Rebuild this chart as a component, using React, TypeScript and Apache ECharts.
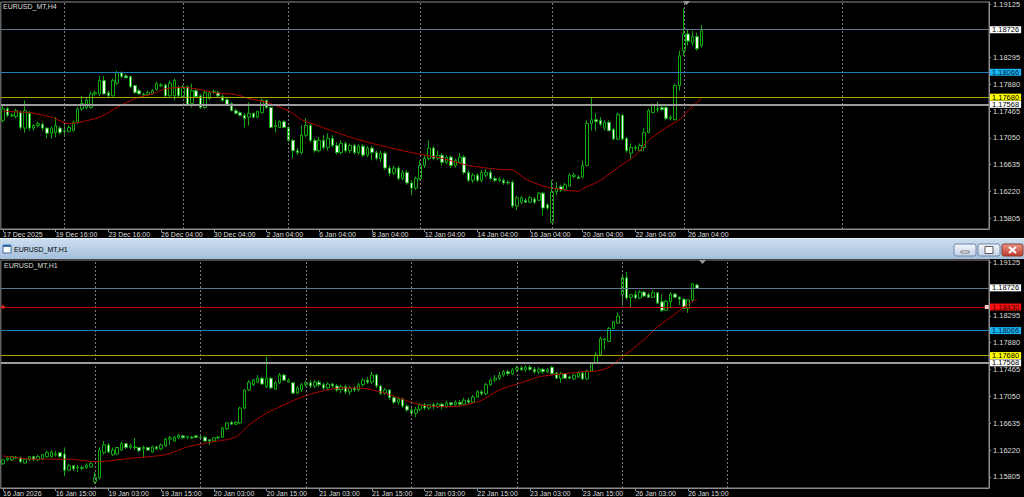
import React, { useEffect, useRef } from "react";
import * as echarts from "echarts";

// ---------- DATA ----------
const h4TickLabels = ["17 Dec 2025", "19 Dec 16:00", "23 Dec 16:00", "26 Dec 04:00", "30 Dec 04:00", "2 Jan 04:00", "6 Jan 04:00", "8 Jan 04:00", "12 Jan 04:00", "14 Jan 04:00", "16 Jan 04:00", "20 Jan 04:00", "22 Jan 04:00", "26 Jan 04:00"];
const h1TickLabels = ["16 Jan 2026", "16 Jan 15:00", "19 Jan 03:00", "19 Jan 15:00", "20 Jan 03:00", "20 Jan 15:00", "21 Jan 03:00", "21 Jan 15:00", "22 Jan 03:00", "22 Jan 15:00", "23 Jan 03:00", "23 Jan 15:00", "26 Jan 03:00", "26 Jan 15:00"];
const priceTicks = [1.19125, 1.18295, 1.1788, 1.17465, 1.1705, 1.16635, 1.1622, 1.15805];
const h4WeekStarts = [14, 41, 65, 95, 125, 155, 191];
const h1DayStarts = [21, 45, 69, 93, 117, 141, 165];
const h4Levels = [1.18726, 1.18066, 1.1768, 1.17568];
const h1Levels = [1.18726, 1.1843, 1.18066, 1.1768, 1.17568];
const h1RedLevel = 1.1843;

// [open, close, low, high]
const h4Candles = [
  [1.1732,1.1750,1.1729,1.1755],[1.1750,1.1740,1.1737,1.1753],[1.1740,1.1739,1.1737,1.1743],[1.1738,1.1747,1.1735,1.1750],
  [1.1744,1.1721,1.1718,1.1747],[1.1720,1.1747,1.1713,1.1763],[1.1743,1.1720,1.1716,1.1746],[1.1720,1.1724,1.1716,1.1726],
  [1.1724,1.1727,1.1721,1.1730],[1.1726,1.1720,1.1716,1.1729],[1.1720,1.1712,1.1704,1.1721],[1.1712,1.1720,1.1704,1.1723],
  [1.1713,1.1724,1.1706,1.1737],[1.1720,1.1713,1.1710,1.1723],[1.1716,1.1715,1.1706,1.1724],[1.1715,1.1721,1.1713,1.1724],
  [1.1716,1.1729,1.1715,1.1732],[1.1729,1.1750,1.1726,1.1753],[1.1750,1.1758,1.1747,1.1770],[1.1752,1.1763,1.1749,1.1766],
  [1.1752,1.1773,1.1750,1.1777],[1.1773,1.1775,1.1770,1.1778],[1.1773,1.1794,1.1770,1.1801],[1.1794,1.1773,1.1772,1.1801],
  [1.1775,1.1770,1.1767,1.1778],[1.1770,1.1794,1.1769,1.1797],[1.1790,1.1806,1.1787,1.1809],[1.1806,1.1800,1.1797,1.1808],
  [1.1801,1.1798,1.1797,1.1804],[1.1800,1.1784,1.1783,1.1801],[1.1786,1.1775,1.1773,1.1787],[1.1778,1.1773,1.1772,1.1781],
  [1.1773,1.1772,1.1769,1.1775],[1.1772,1.1775,1.1770,1.1778],[1.1773,1.1778,1.1772,1.1781],[1.1780,1.1789,1.1778,1.1792],
  [1.1787,1.1786,1.1784,1.1790],[1.1787,1.1770,1.1769,1.1789],[1.1770,1.1790,1.1769,1.1794],[1.1770,1.1794,1.1763,1.1797],
  [1.1783,1.1770,1.1767,1.1786],[1.1769,1.1784,1.1767,1.1787],[1.1784,1.1757,1.1755,1.1786],[1.1758,1.1778,1.1752,1.1789],
  [1.1778,1.1769,1.1767,1.1781],[1.1770,1.1752,1.1750,1.1773],[1.1752,1.1775,1.1750,1.1778],[1.1766,1.1775,1.1764,1.1778],
  [1.1775,1.1777,1.1773,1.1780],[1.1775,1.1770,1.1767,1.1778],[1.1769,1.1763,1.1761,1.1772],[1.1764,1.1757,1.1755,1.1767],
  [1.1758,1.1747,1.1746,1.1760],[1.1747,1.1743,1.1741,1.1750],[1.1744,1.1740,1.1738,1.1746],[1.1740,1.1735,1.1721,1.1743],
  [1.1737,1.1743,1.1724,1.1760],[1.1743,1.1737,1.1735,1.1744],[1.1737,1.1746,1.1735,1.1747],[1.1744,1.1763,1.1743,1.1766],
  [1.1763,1.1752,1.1750,1.1764],[1.1752,1.1721,1.1720,1.1753],[1.1724,1.1723,1.1713,1.1732],[1.1721,1.1730,1.1720,1.1732],
  [1.1730,1.1721,1.1720,1.1732],[1.1721,1.1701,1.1699,1.1723],[1.1701,1.1685,1.1673,1.1703],[1.1685,1.1682,1.1678,1.1689],
  [1.1682,1.1709,1.1679,1.1724],[1.1709,1.1724,1.1706,1.1735],[1.1724,1.1701,1.1698,1.1727],[1.1701,1.1685,1.1682,1.1704],
  [1.1685,1.1701,1.1682,1.1706],[1.1701,1.1690,1.1687,1.1709],[1.1690,1.1704,1.1685,1.1712],[1.1704,1.1693,1.1690,1.1709],
  [1.1693,1.1682,1.1679,1.1698],[1.1682,1.1696,1.1679,1.1701],[1.1696,1.1685,1.1682,1.1699],[1.1685,1.1693,1.1681,1.1696],
  [1.1693,1.1682,1.1679,1.1696],[1.1682,1.1692,1.1678,1.1695],[1.1692,1.1678,1.1675,1.1695],[1.1678,1.1689,1.1675,1.1692],
  [1.1689,1.1682,1.1670,1.1692],[1.1682,1.1673,1.1670,1.1685],[1.1673,1.1681,1.1667,1.1685],[1.1681,1.1658,1.1655,1.1684],
  [1.1658,1.1650,1.1645,1.1662],[1.1650,1.1658,1.1647,1.1662],[1.1658,1.1642,1.1639,1.1661],[1.1642,1.1651,1.1639,1.1655],
  [1.1651,1.1635,1.1632,1.1655],[1.1635,1.1627,1.1616,1.1639],[1.1627,1.1642,1.1624,1.1645],[1.1642,1.1662,1.1639,1.1670],
  [1.1662,1.1673,1.1658,1.1678],[1.1673,1.1689,1.1670,1.1701],[1.1689,1.1673,1.1670,1.1692],[1.1673,1.1678,1.1670,1.1685],
  [1.1678,1.1667,1.1662,1.1681],[1.1667,1.1675,1.1664,1.1678],[1.1675,1.1662,1.1658,1.1678],[1.1662,1.1670,1.1659,1.1673],
  [1.1667,1.1675,1.1665,1.1681],[1.1675,1.1651,1.1648,1.1678],[1.1651,1.1639,1.1636,1.1655],[1.1639,1.1647,1.1635,1.1650],
  [1.1647,1.1639,1.1636,1.1650],[1.1639,1.1651,1.1636,1.1655],[1.1647,1.1651,1.1644,1.1656],[1.1651,1.1642,1.1639,1.1655],
  [1.1642,1.1639,1.1636,1.1645],[1.1639,1.1641,1.1636,1.1644],[1.1639,1.1635,1.1632,1.1642],[1.1636,1.1635,1.1632,1.1639],
  [1.1636,1.1599,1.1596,1.1639],[1.1599,1.1612,1.1593,1.1615],[1.1605,1.1612,1.1602,1.1615],[1.1608,1.1605,1.1604,1.1612],
  [1.1605,1.1612,1.1604,1.1615],[1.1610,1.1605,1.1602,1.1613],[1.1608,1.1619,1.1607,1.1621],[1.1619,1.1596,1.1584,1.1621],
  [1.1601,1.1596,1.1593,1.1604],[1.1574,1.1621,1.1573,1.1639],[1.1621,1.1627,1.1616,1.1636],[1.1629,1.1624,1.1621,1.1632],
  [1.1624,1.1632,1.1622,1.1635],[1.1630,1.1647,1.1629,1.1650],[1.1645,1.1647,1.1642,1.1651],[1.1644,1.1642,1.1641,1.1647],
  [1.1644,1.1662,1.1642,1.1670],[1.1662,1.1727,1.1661,1.1732],[1.1727,1.1733,1.1716,1.1767],[1.1733,1.1730,1.1716,1.1743],
  [1.1732,1.1726,1.1723,1.1737],[1.1720,1.1729,1.1716,1.1732],[1.1729,1.1716,1.1715,1.1732],[1.1718,1.1703,1.1701,1.1720],
  [1.1703,1.1741,1.1701,1.1744],[1.1740,1.1703,1.1701,1.1741],[1.1704,1.1685,1.1682,1.1706],[1.1681,1.1690,1.1672,1.1696],
  [1.1689,1.1690,1.1685,1.1693],[1.1685,1.1693,1.1684,1.1696],[1.1690,1.1713,1.1685,1.1720],[1.1713,1.1747,1.1712,1.1750],
  [1.1744,1.1755,1.1743,1.1758],[1.1749,1.1750,1.1744,1.1761],[1.1752,1.1749,1.1747,1.1755],[1.1752,1.1735,1.1732,1.1755],
  [1.1735,1.1737,1.1732,1.1740],[1.1733,1.1786,1.1732,1.1789],[1.1786,1.1832,1.1778,1.1840],[1.1840,1.1866,1.1832,1.1905],
  [1.1866,1.1855,1.1848,1.1874],[1.1852,1.1862,1.1848,1.1871],[1.1862,1.1843,1.1840,1.1868],[1.1848,1.1871,1.1845,1.1880],
];

const h1Candles = [
  [1.1601,1.1607,1.1599,1.1608],[1.1607,1.1610,1.1605,1.1612],[1.1607,1.1612,1.1605,1.1613],[1.1610,1.1611,1.1608,1.1613],
  [1.1610,1.1604,1.1602,1.1612],[1.1602,1.1608,1.1601,1.1610],[1.1607,1.1612,1.1605,1.1613],[1.1612,1.1607,1.1605,1.1613],
  [1.1607,1.1612,1.1605,1.1615],[1.1608,1.1615,1.1607,1.1616],[1.1612,1.1618,1.1610,1.1621],[1.1612,1.1619,1.1610,1.1622],
  [1.1615,1.1616,1.1612,1.1621],[1.1618,1.1612,1.1610,1.1619],[1.1616,1.1591,1.1582,1.1626],[1.1591,1.1598,1.1590,1.1601],
  [1.1598,1.1593,1.1590,1.1599],[1.1595,1.1596,1.1588,1.1599],[1.1595,1.1594,1.1591,1.1598],[1.1595,1.1599,1.1593,1.1602],
  [1.1596,1.1601,1.1595,1.1604],[1.1573,1.1580,1.1570,1.1588],[1.1579,1.1622,1.1577,1.1626],[1.1618,1.1630,1.1615,1.1636],
  [1.1630,1.1619,1.1618,1.1633],[1.1615,1.1622,1.1613,1.1626],[1.1616,1.1626,1.1615,1.1627],[1.1622,1.1632,1.1621,1.1635],
  [1.1632,1.1626,1.1624,1.1633],[1.1626,1.1629,1.1624,1.1632],[1.1627,1.1626,1.1622,1.1641],[1.1626,1.1621,1.1619,1.1627],
  [1.1624,1.1626,1.1610,1.1629],[1.1626,1.1622,1.1621,1.1627],[1.1619,1.1627,1.1618,1.1629],[1.1627,1.1624,1.1622,1.1629],
  [1.1624,1.1630,1.1622,1.1632],[1.1629,1.1639,1.1627,1.1641],[1.1639,1.1641,1.1630,1.1644],[1.1636,1.1642,1.1635,1.1644],
  [1.1641,1.1645,1.1639,1.1647],[1.1644,1.1641,1.1639,1.1645],[1.1642,1.1643,1.1639,1.1644],[1.1642,1.1641,1.1639,1.1644],
  [1.1644,1.1642,1.1641,1.1645],[1.1641,1.1642,1.1639,1.1644],[1.1642,1.1636,1.1635,1.1644],[1.1638,1.1636,1.1630,1.1639],
  [1.1636,1.1641,1.1635,1.1642],[1.1641,1.1642,1.1639,1.1644],[1.1642,1.1656,1.1641,1.1658],[1.1655,1.1664,1.1653,1.1665],
  [1.1665,1.1662,1.1661,1.1667],[1.1662,1.1665,1.1661,1.1667],[1.1664,1.1687,1.1662,1.1689],[1.1687,1.1715,1.1685,1.1716],
  [1.1715,1.1727,1.1713,1.1730],[1.1723,1.1730,1.1721,1.1732],[1.1727,1.1733,1.1726,1.1738],[1.1733,1.1724,1.1723,1.1735],
  [1.1720,1.1733,1.1718,1.1766],[1.1733,1.1718,1.1716,1.1735],[1.1716,1.1726,1.1715,1.1729],[1.1726,1.1738,1.1724,1.1741],
  [1.1738,1.1730,1.1729,1.1740],[1.1727,1.1730,1.1726,1.1733],[1.1726,1.1710,1.1709,1.1727],[1.1710,1.1718,1.1709,1.1721],
  [1.1715,1.1723,1.1712,1.1726],[1.1723,1.1726,1.1720,1.1729],[1.1726,1.1721,1.1718,1.1730],[1.1721,1.1727,1.1718,1.1730],
  [1.1727,1.1723,1.1720,1.1730],[1.1723,1.1718,1.1715,1.1726],[1.1718,1.1724,1.1715,1.1727],[1.1724,1.1721,1.1718,1.1726],
  [1.1721,1.1715,1.1712,1.1724],[1.1715,1.1720,1.1710,1.1723],[1.1720,1.1712,1.1709,1.1723],[1.1712,1.1718,1.1707,1.1721],
  [1.1718,1.1715,1.1712,1.1721],[1.1715,1.1723,1.1713,1.1726],[1.1723,1.1730,1.1720,1.1733],[1.1730,1.1727,1.1724,1.1735],
  [1.1727,1.1738,1.1724,1.1743],[1.1738,1.1721,1.1718,1.1740],[1.1721,1.1710,1.1707,1.1723],[1.1710,1.1715,1.1707,1.1718],
  [1.1715,1.1703,1.1699,1.1716],[1.1703,1.1696,1.1693,1.1706],[1.1696,1.1701,1.1692,1.1704],[1.1701,1.1690,1.1687,1.1703],
  [1.1690,1.1684,1.1681,1.1693],[1.1684,1.1679,1.1675,1.1687],[1.1679,1.1685,1.1673,1.1689],[1.1685,1.1692,1.1682,1.1695],
  [1.1692,1.1687,1.1684,1.1695],[1.1687,1.1692,1.1684,1.1693],[1.1692,1.1689,1.1685,1.1695],[1.1689,1.1693,1.1687,1.1696],
  [1.1693,1.1689,1.1685,1.1695],[1.1689,1.1695,1.1687,1.1698],[1.1695,1.1692,1.1689,1.1696],[1.1692,1.1696,1.1690,1.1699],
  [1.1696,1.1693,1.1690,1.1699],[1.1693,1.1699,1.1692,1.1703],[1.1699,1.1696,1.1693,1.1703],[1.1696,1.1704,1.1695,1.1707],
  [1.1704,1.1712,1.1703,1.1715],[1.1712,1.1709,1.1706,1.1715],[1.1709,1.1723,1.1707,1.1726],[1.1723,1.1730,1.1721,1.1733],
  [1.1730,1.1733,1.1727,1.1738],[1.1733,1.1738,1.1730,1.1743],[1.1738,1.1743,1.1735,1.1746],[1.1743,1.1740,1.1737,1.1746],
  [1.1740,1.1746,1.1738,1.1749],[1.1746,1.1749,1.1743,1.1752],[1.1749,1.1746,1.1744,1.1752],[1.1746,1.1750,1.1743,1.1753],
  [1.1750,1.1747,1.1744,1.1753],[1.1747,1.1743,1.1740,1.1750],[1.1743,1.1747,1.1740,1.1750],[1.1747,1.1743,1.1740,1.1749],
  [1.1743,1.1746,1.1741,1.1749],[1.1750,1.1740,1.1738,1.1752],[1.1741,1.1733,1.1732,1.1743],[1.1733,1.1740,1.1726,1.1743],
  [1.1740,1.1733,1.1732,1.1741],[1.1735,1.1733,1.1732,1.1737],[1.1732,1.1738,1.1730,1.1740],[1.1735,1.1741,1.1733,1.1744],
  [1.1741,1.1732,1.1730,1.1743],[1.1732,1.1744,1.1730,1.1746],[1.1744,1.1757,1.1743,1.1758],[1.1757,1.1769,1.1755,1.1773],
  [1.1769,1.1794,1.1767,1.1797],[1.1792,1.1794,1.1777,1.1795],[1.1790,1.1810,1.1789,1.1812],[1.1810,1.1820,1.1809,1.1821],
  [1.1818,1.1829,1.1817,1.1834],[1.1862,1.1889,1.1846,1.1892],[1.1888,1.1857,1.1854,1.1897],[1.1858,1.1862,1.1843,1.1863],
  [1.1862,1.1857,1.1855,1.1868],[1.1857,1.1866,1.1855,1.1869],[1.1866,1.1860,1.1858,1.1868],[1.1862,1.1858,1.1857,1.1865],
  [1.1858,1.1865,1.1857,1.1869],[1.1865,1.1849,1.1848,1.1866],[1.1851,1.1838,1.1835,1.1862],[1.1838,1.1852,1.1837,1.1854],
  [1.1851,1.1863,1.1843,1.1866],[1.1863,1.1858,1.1857,1.1865],[1.1858,1.1855,1.1846,1.1860],[1.1855,1.1841,1.1840,1.1857],
  [1.1841,1.1854,1.1834,1.1855],[1.1854,1.1879,1.1852,1.1880],[1.1877,1.1872,1.1871,1.1879],
];

// moving average readings (bar index, value)
const h4MaIdx = [0, 6, 11, 15, 18, 22, 26, 30, 34, 37, 41, 44, 48, 53, 56, 60, 65, 68, 72, 79, 86, 93, 100, 106, 113, 116, 119, 123, 125, 131, 132, 136, 140, 144, 147, 151, 154, 156, 159];
const h4MaVal = [1.1746, 1.1744, 1.1737, 1.1727, 1.1730, 1.1737, 1.1752, 1.1766, 1.1773, 1.1781, 1.1783, 1.1781, 1.1775, 1.1772, 1.1766, 1.1760, 1.1747, 1.1733, 1.1723, 1.1706, 1.1693, 1.1682, 1.1673, 1.1662, 1.1656, 1.1655, 1.1641, 1.1630, 1.1627, 1.1622, 1.1626, 1.1639, 1.1659, 1.1678, 1.1701, 1.1721, 1.1733, 1.1747, 1.1766];
const h1MaIdx = [0, 7, 15, 21, 30, 37, 42, 48, 53, 56, 60, 64, 68, 72, 77, 81, 86, 90, 95, 100, 104, 109, 113, 118, 122, 125, 132, 135, 138, 141, 145, 149, 153, 155, 158];
const h1MaVal = [1.1613, 1.1608, 1.1608, 1.1604, 1.1610, 1.1615, 1.1627, 1.1635, 1.1642, 1.1661, 1.1679, 1.1692, 1.1704, 1.1712, 1.1718, 1.1718, 1.1712, 1.1703, 1.1692, 1.1689, 1.1690, 1.1699, 1.1715, 1.1726, 1.1735, 1.1738, 1.1743, 1.1744, 1.1750, 1.1766, 1.1787, 1.1812, 1.1832, 1.1843, 1.1855];

// ---------- STYLE ----------
const SLOTS = 225;
const LABEL_EVERY = 12;
const Y_MIN = 1.15635;
const Y_MAX = 1.19156;
const GREEN = "#10aa10";
const AXIS = "#8c8c8c";
const TXT = "#dcdcdc";
const FONT = "Liberation Sans";
const levelStyle: Record<string, { line: string; width: number; bg: string; fg: string }> = {
  "1.18726": { line: "#64768a", width: 1, bg: "#ffffff", fg: "#000000" },
  "1.18430": { line: "#c80000", width: 1, bg: "#ff1010", fg: "#300000" },
  "1.18066": { line: "#1f7fb8", width: 1, bg: "#18b4f0", fg: "#002040" },
  "1.17680": { line: "#a6a600", width: 1, bg: "#ffff00", fg: "#000000" },
  "1.17568": { line: "#9c9c9c", width: 2, bg: "#ffffff", fg: "#000000" },
};

const fmt = (v: number) => v.toFixed(5);

function categories(labels: string[]) {
  return Array.from({ length: SLOTS }, (_, i) =>
    i % LABEL_EVERY === 0 && i / LABEL_EVERY < labels.length ? labels[i / LABEL_EVERY] : "#" + i
  );
}
const shownIdx = (labels: string[]) => (i: number) => i % LABEL_EVERY === 0 && i / LABEL_EVERY < labels.length;

function maSeries(idx: number[], val: number[], n: number) {
  const arr: (number | null)[] = Array.from({ length: n }, () => null);
  idx.forEach((k, j) => (arr[k] = val[j]));
  return arr;
}

function xAxisFor(g: number, labels: string[]) {
  return {
    type: "category",
    gridIndex: g,
    data: categories(labels),
    boundaryGap: true,
    axisLine: { show: true, lineStyle: { color: AXIS } },
    axisTick: { show: true, interval: shownIdx(labels), alignWithLabel: true, length: 3, lineStyle: { color: AXIS } },
    axisLabel: { interval: shownIdx(labels), align: "left", margin: 2, color: TXT, fontSize: 7, fontFamily: FONT, hideOverlap: false },
    splitLine: { show: false },
  };
}

function yAxisFor(g: number) {
  return {
    type: "value",
    gridIndex: g,
    position: "right",
    min: Y_MIN,
    max: Y_MAX,
    axisLine: { show: true, lineStyle: { color: AXIS } },
    axisTick: { show: true, length: 2, customValues: priceTicks, lineStyle: { color: AXIS } },
    axisLabel: { customValues: priceTicks, formatter: (v: number) => fmt(v), color: TXT, fontSize: 7.5, fontFamily: FONT, margin: 4, verticalAlign: "middle", lineHeight: 5 },
    splitLine: { show: false },
  };
}

function seriesFor(g: number, candles: number[][], maIdx: number[], maVal: number[], levels: number[], vgrid: number[], markers: any[]) {
  return [
    {
      type: "line",
      xAxisIndex: g,
      yAxisIndex: g,
      data: candles.map(() => null),
      showSymbol: false,
      silent: true,
      z: 1,
      markLine: {
        silent: true,
        symbol: "none",
        animation: false,
        label: { show: false },
        lineStyle: { color: "#7c7c7c", type: [2, 2], width: 1 },
        data: vgrid.map((i) => ({ xAxis: i })),
      },
    },
    {
      type: "candlestick",
      xAxisIndex: g,
      yAxisIndex: g,
      data: candles,
      barWidth: 3,
      z: 3,
      itemStyle: { color: "#000000", color0: "#f4f4f4", borderColor: GREEN, borderColor0: GREEN, borderWidth: 1 },
      markPoint: markers.length
        ? { silent: true, animation: false, label: { show: false }, data: markers }
        : undefined,
      markLine: {
        silent: true,
        symbol: "none",
        animation: false,
        precision: 5,
        data: levels.map((v) => {
          const s = levelStyle[fmt(v)];
          return {
            yAxis: v,
            lineStyle: { color: s.line, width: s.width, type: "solid" },
            label: {
              show: true,
              position: "end",
              distance: 1,
              formatter: () => fmt(v),
              backgroundColor: s.bg,
              color: s.fg,
              padding: [0, 2, 0, 2],
              lineHeight: 7,
              fontSize: 7.5,
              fontFamily: FONT,
            },
          };
        }),
      },
    },
    {
      type: "line",
      xAxisIndex: g,
      yAxisIndex: g,
      data: maSeries(maIdx, maVal, candles.length),
      connectNulls: true,
      showSymbol: false,
      smooth: 0.25,
      silent: true,
      z: 4,
      lineStyle: { color: "#b00000", width: 1 },
    },
  ];
}

function buildOption() {
  const grad = (a: string, b: string) => ({ type: "linear", x: 0, y: 0, x2: 0, y2: 1, colorStops: [{ offset: 0, color: a }, { offset: 1, color: b }] });
  const redMarkers = [
    { coord: [0, h1RedLevel], symbol: "rect", symbolSize: [3, 3], itemStyle: { color: "#ff2020" } },
    { coord: [SLOTS - 1, h1RedLevel], symbol: "rect", symbolSize: [4, 4], itemStyle: { color: "#ffc8c8" } },
  ];
  return {
    animation: false,
    backgroundColor: "#000000",
    grid: [
      { left: 0, top: 1, width: 989, height: 228, show: true, borderColor: AXIS, borderWidth: 1, backgroundColor: "transparent" },
      { left: 0, top: 260, width: 989, height: 228, show: true, borderColor: AXIS, borderWidth: 1, backgroundColor: "transparent" },
    ],
    xAxis: [xAxisFor(0, h4TickLabels), xAxisFor(1, h1TickLabels)],
    yAxis: [yAxisFor(0), yAxisFor(1)],
    series: [
      ...seriesFor(0, h4Candles, h4MaIdx, h4MaVal, h4Levels, h4WeekStarts, []),
      ...seriesFor(1, h1Candles, h1MaIdx, h1MaVal, h1Levels, h1DayStarts, redMarkers),
    ],
    graphic: [
      { type: "text", x: 3, y: 3, style: { text: "EURUSD_MT,H4", fill: TXT, font: `7px "${FONT}"`, verticalAlign: "top" } },
      { type: "text", x: 4, y: 262, style: { text: "EURUSD_MT,H1", fill: TXT, font: `7px "${FONT}"`, verticalAlign: "top" } },
      { type: "polygon", shape: { points: [[683, 1], [690, 1], [686.5, 5]] }, style: { fill: "#9a9a9a" } },
      { type: "polygon", shape: { points: [[699, 260], [706, 260], [702.5, 264]] }, style: { fill: "#9a9a9a" } },
      // window title bar
      { type: "rect", shape: { x: 0, y: 238, width: 1024, height: 21 }, style: { fill: grad("#cddff1", "#a5bfdc") } },
      { type: "rect", shape: { x: 0, y: 238, width: 1024, height: 1 }, style: { fill: "#e4eef8" } },
      { type: "rect", shape: { x: 3, y: 245, width: 8, height: 8 }, style: { fill: "#ffffff", stroke: "#3a6ea8", lineWidth: 1 } },
      { type: "rect", shape: { x: 3, y: 245, width: 8, height: 2 }, style: { fill: "#3a6ea8" } },
      { type: "text", x: 14, y: 249.5, style: { text: "EURUSD_MT,H1", fill: "#000000", font: `7px "${FONT}"`, verticalAlign: "middle" } },
      { type: "rect", shape: { x: 954, y: 244, width: 22, height: 12, r: 2 }, style: { fill: grad("#f3f7fc", "#c3d2e6"), stroke: "#6f86a6", lineWidth: 1 } },
      { type: "rect", shape: { x: 961, y: 251, width: 8, height: 2 }, style: { fill: "#ffffff", stroke: "#333333", lineWidth: 0.6 } },
      { type: "rect", shape: { x: 978, y: 244, width: 22, height: 12, r: 2 }, style: { fill: grad("#f3f7fc", "#c3d2e6"), stroke: "#6f86a6", lineWidth: 1 } },
      { type: "rect", shape: { x: 985, y: 246.5, width: 8, height: 7 }, style: { fill: "#ffffff", stroke: "#333333", lineWidth: 0.8 } },
      { type: "rect", shape: { x: 1002, y: 244, width: 21, height: 12, r: 2 }, style: { fill: grad("#e8968a", "#c13a28"), stroke: "#8a3a30", lineWidth: 1 } },
      { type: "line", shape: { x1: 1009, y1: 247, x2: 1016, y2: 253 }, style: { stroke: "#ffffff", lineWidth: 2 } },
      { type: "line", shape: { x1: 1016, y1: 247, x2: 1009, y2: 253 }, style: { stroke: "#ffffff", lineWidth: 2 } },
    ],
  };
}

export default function App() {
  const ref = useRef<HTMLDivElement>(null);
  useEffect(() => {
    if (!ref.current) return;
    const chart = echarts.init(ref.current, undefined, { renderer: "svg" });
    chart.setOption(buildOption() as any);
    return () => chart.dispose();
  }, []);
  return <div ref={ref} style={{ position: "fixed", left: 0, top: 0, width: 1024, height: 497, background: "#000" }} />;
}
